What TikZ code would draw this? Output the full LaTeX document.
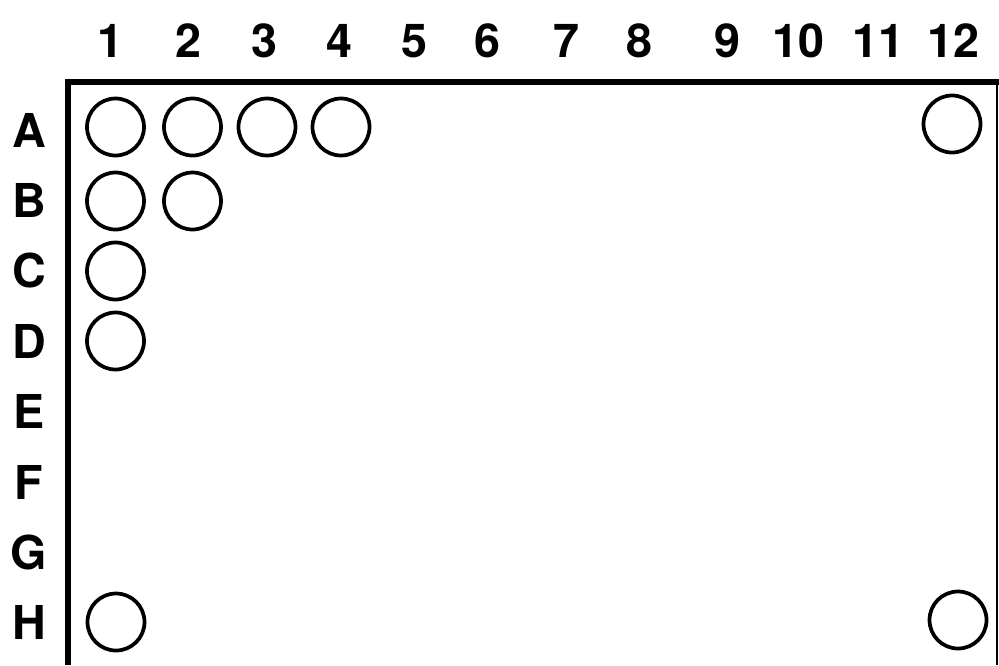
\documentclass[tikz,border=0pt]{standalone}
\usepackage{fontspec}
\setmainfont{TeX Gyre Heros}
\begin{document}
\begin{tikzpicture}[x=0.75pt,y=-0.75pt,
  well/.style={circle,draw=black,line width=2.8pt,minimum size=57*0.75pt,inner sep=0pt},
  lab/.style={font=\fontsize{35}{35}\selectfont\bfseries,inner sep=0pt,anchor=base}]
\useasboundingbox (0,0) rectangle (999,665);
% frame
\draw[line width=4.5pt] (68,665) -- (68,82) -- (999,82);
\draw[line width=1pt] (997,82) -- (997,665);
% column labels
\foreach \n/\x in {1/110,2/188,3/264,4/339,5/414,6/487,7/566,8/639,9/727,10/798,11/878,12/953}
  \node[lab] (c\n) at (\x,57) {\n};
% row labels
\foreach \r [count=\i from 0] in {A,B,C,D,E,F,G,H}
  \node[lab] (r\r) at (29,{147+70.4*\i}) {\r};
% wells
\node[well] (A1) at (115.5,127) {};
\node[well] (A2) at (192.5,127) {};
\node[well] (A3) at (267,127) {};
\node[well] (A4) at (341,127) {};
\node[well] (A12) at (952,124) {};
\node[well] (B1) at (115.5,201) {};
\node[well] (B2) at (192.5,201) {};
\node[well] (C1) at (115.5,271) {};
\node[well] (D1) at (115.5,341) {};
\node[well] (H1) at (116,622) {};
\node[well] (H12) at (958,620) {};
\end{tikzpicture}
\end{document}
